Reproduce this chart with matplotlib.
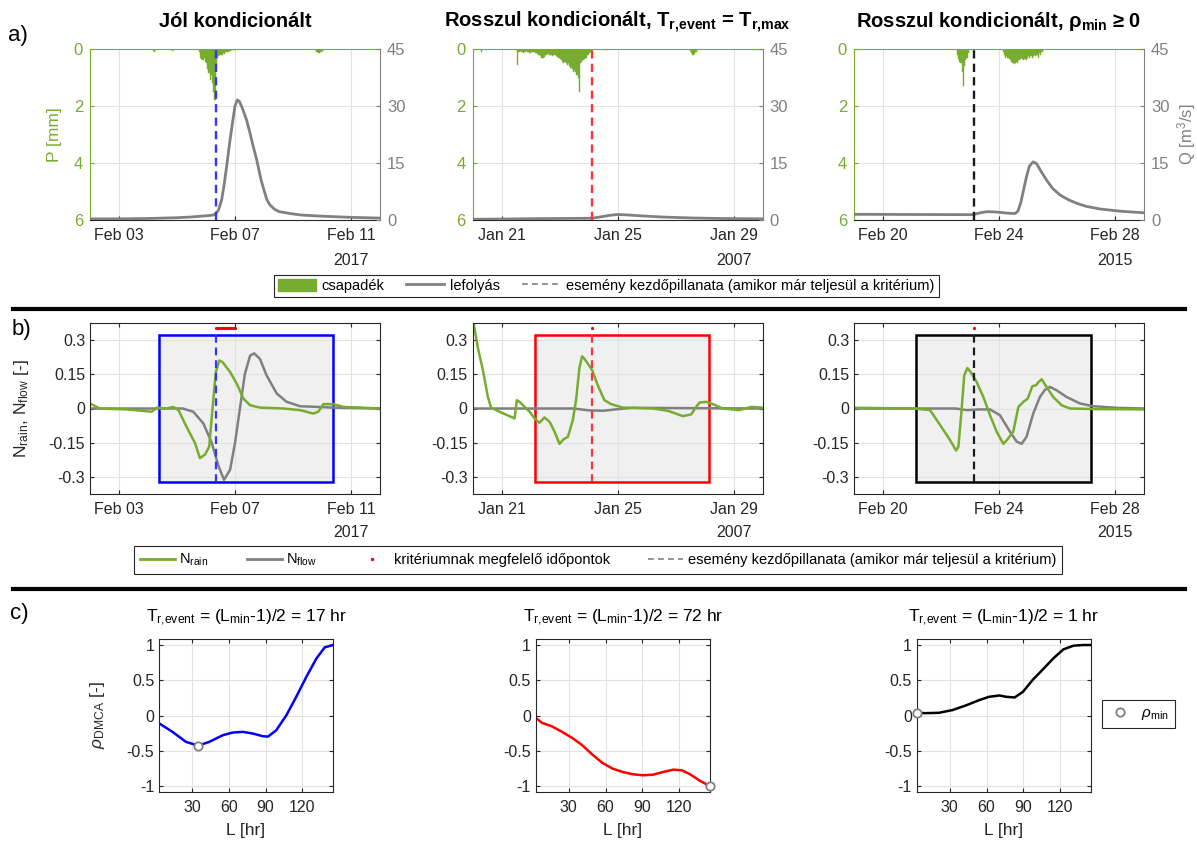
import matplotlib
matplotlib.use("Agg")
import numpy as np
import matplotlib.pyplot as plt
from matplotlib.patches import Rectangle, Patch
from matplotlib.lines import Line2D

plt.rcParams['font.family'] = ['Liberation Sans', 'DejaVu Sans']
plt.rcParams['mathtext.fontset'] = 'custom'
plt.rcParams['mathtext.rm'] = 'Liberation Sans'
plt.rcParams['mathtext.it'] = 'Liberation Sans:italic'
plt.rcParams['mathtext.bf'] = 'Liberation Sans:bold'

GREEN = '#77AC30'
GRAY = '#808080'
TXT = '#262626'
GRID = '#E2E2E2'

# ------------------------------------------------------------------ data
titles_a = ["Jól kondicionált",
            r"Rosszul kondicionált, T$_{\mathbf{r{,}event}}$ = T$_{\mathbf{r{,}max}}$",
            r"Rosszul kondicionált, ρ$_{\mathbf{min}}$ ≥ 0"]
event_colors = ['#0000FF', '#FF0000', '#000000']
dash_colors = ['#3535FF', '#FF3535', '#1A1A1A']
xtick_days = [1, 5, 9]
xtick_labels = [["Feb 03", "Feb 07", "Feb 11"],
                ["Jan 21", "Jan 25", "Jan 29"],
                ["Feb 20", "Feb 24", "Feb 28"]]
years = ["2017", "2007", "2015"]
event_day = [4.34, 4.13, 4.13]          # event start (days from window start)
window_start = [2.38, 2.14, 2.13]
window_end = [8.39, 8.15, 8.16]

# precipitation: hour from panel start, mm
rain1_hour = [52, 53, 67, 68, 69,
              90, 91, 92, 93, 94, 95, 96, 97, 98, 99, 100, 101, 102, 103, 104, 105,
              106, 107, 108, 109, 110, 111, 112, 113, 114, 115, 116, 117, 118, 119, 120,
              186, 187, 188, 189, 190, 191, 192, 193]
rain1_mm = [0.06, 0.1, 0.04, 0.07, 0.03,
            0.1, 0.3, 0.35, 0.4, 0.3, 0.45, 0.5, 0.7, 0.85, 1.1, 0.9, 1.2, 1.5, 1.8, 0.6, 0.3,
            0.25, 0.22, 0.2, 0.22, 0.15, 0.18, 0.12, 0.1, 0.1, 0.08, 0.06, 0.05, 0.05, 0.03, 0.02,
            0.05, 0.1, 0.12, 0.15, 0.12, 0.1, 0.08, 0.05]
rain2_hour = [7, 36, 37, 38, 39, 40, 41, 42, 43, 44, 45, 46, 47, 48, 49, 50, 51, 52, 53, 54, 55,
              56, 57, 58, 59, 60, 61, 62, 63, 64, 65, 66, 67, 68, 69, 70, 71,
              72, 73, 74, 75, 76, 77, 78, 79, 80, 81, 82, 83, 84, 85, 86, 87, 88,
              89, 90, 91, 92, 93, 94, 95, 96, 97, 98, 110, 180, 181, 182, 183, 184, 185, 186, 232]
rain2_mm = [0.12, 0.05, 0.56, 0.1, 0.08, 0.12, 0.1, 0.15, 0.1, 0.08, 0.12, 0.1, 0.15, 0.12, 0.1, 0.1, 0.12, 0.15, 0.18, 0.2, 0.22,
            0.25, 0.3, 0.33, 0.28, 0.22, 0.2, 0.18, 0.2, 0.22, 0.2, 0.25, 0.22, 0.2, 0.25, 0.28, 0.3,
            0.35, 0.4, 0.45, 0.5, 0.45, 0.5, 0.55, 0.5, 0.6, 0.65, 0.7, 0.8, 0.75, 0.8, 0.9, 1.0, 1.5,
            0.5, 0.45, 0.4, 0.35, 0.3, 0.3, 0.2, 0.15, 0.1, 0.05, 0.04, 0.08, 0.15, 0.2, 0.18, 0.12, 0.1, 0.05, 0.05]
rain3_hour = [85, 86, 87, 88, 89, 90, 91, 92, 93, 94,
              123, 124, 125, 126, 127, 128, 129, 130, 131, 132, 133, 134, 135, 136, 137, 138, 139,
              140, 141, 142, 143, 144, 145, 146, 147, 148, 149, 150, 151, 152, 153, 154, 155, 156]
rain3_mm = [0.2, 0.35, 0.45, 0.5, 0.8, 1.3, 0.6, 0.4, 0.3, 0.15,
            0.1, 0.2, 0.3, 0.25, 0.3, 0.35, 0.4, 0.45, 0.5, 0.52, 0.5, 0.45, 0.5, 0.4, 0.35, 0.3, 0.35,
            0.4, 0.35, 0.4, 0.3, 0.25, 0.3, 0.25, 0.3, 0.25, 0.2, 0.25, 0.2, 0.3, 0.15, 0.2, 0.1, 0.05]

# discharge: day from panel start, m3/s
flow1_day = [0, 1, 2, 3, 3.5, 4.0, 4.25, 4.35, 4.43, 4.54, 4.62, 4.71, 4.81, 4.91, 5.0, 5.08, 5.15,
             5.25, 5.4, 5.52, 5.63, 5.75, 5.9, 6.09, 6.2, 6.35, 6.52, 6.9, 7.3, 8.0, 9.0, 10.0]
flow1_q = [0.3, 0.3, 0.4, 0.6, 0.8, 1.1, 1.3, 1.8, 2.6, 5.3, 9.0, 14.0, 20.0, 25.4, 30.0, 31.6, 31.2,
           29.5, 26.3, 22.8, 19.3, 15.8, 10.5, 5.5, 4.0, 2.9, 2.2, 1.7, 1.3, 1.0, 0.7, 0.5]
flow2_day = [0, 1, 2, 3, 4.0, 4.15, 4.4, 4.7, 5.0, 5.3, 5.8, 6.5, 7.5, 8.5, 10]
flow2_q = [0.2, 0.25, 0.35, 0.4, 0.45, 0.5, 0.8, 1.2, 1.45, 1.35, 1.1, 0.8, 0.55, 0.4, 0.3]
flow3_day = [0, 2, 4.0, 4.13, 4.35, 4.6, 4.9, 5.3, 5.55, 5.65, 5.75, 5.85, 5.95, 6.05, 6.18, 6.3,
             6.45, 6.64, 6.85, 7.1, 7.4, 7.68, 8.0, 8.48, 9.2, 10]
flow3_q = [1.5, 1.45, 1.4, 1.45, 1.9, 2.2, 2.1, 1.8, 1.7, 2.3, 4.5, 8.0, 11.5, 14.2, 15.3, 14.8,
           12.8, 10.5, 8.3, 6.6, 5.3, 4.4, 3.6, 2.9, 2.3, 1.9]

# normalised series (row b)
nrain1_day = [0, 0.34, 1.26, 2.13, 2.3, 2.64, 2.87, 3.05, 3.33, 3.62, 3.79, 3.97, 4.11, 4.25, 4.34,
              4.46, 4.57, 4.83, 5.06, 5.29, 5.52, 5.86, 6.67, 7.24, 7.7, 7.87, 8.05, 8.39, 8.74, 10]
nrain1_val = [0.022, 0, -0.004, -0.014, 0.004, 0, 0.007, -0.007, -0.08, -0.15, -0.216, -0.2, -0.166,
              0.036, 0.159, 0.209, 0.202, 0.159, 0.108, 0.043, 0.014, 0.004, 0, -0.007, -0.022,
              -0.014, 0.019, 0.019, 0.007, 0]
nflow1_day = [0, 3.2, 3.56, 3.91, 4.2, 4.43, 4.62, 4.83, 5.0, 5.17, 5.34, 5.52, 5.66, 5.86, 6.09,
              6.44, 6.78, 7.24, 8.39, 10]
nflow1_val = [0, 0, -0.014, -0.065, -0.15, -0.25, -0.31, -0.267, -0.15, 0, 0.15, 0.23, 0.24, 0.216,
              0.144, 0.065, 0.029, 0.01, 0.004, 0]
nrain2_day = [0, 0.18, 0.36, 0.53, 0.64, 0.93, 1.45, 1.53, 1.62, 1.97, 2.14, 2.31, 2.48, 2.66, 2.83,
              3.0, 3.14, 3.29, 3.46, 3.57, 3.69, 3.78, 3.86, 3.98, 4.13, 4.32, 4.55, 4.78, 5.18,
              6.22, 6.74, 7.25, 7.54, 7.71, 7.83, 8.06, 8.29, 8.63, 9.2, 9.61, 9.98]
nrain2_val = [0.4, 0.267, 0.166, 0.05, 0.004, -0.014, -0.043, 0.036, 0.029, -0.014, -0.043, -0.062,
              -0.039, -0.058, -0.101, -0.154, -0.134, -0.123, -0.05, 0.036, 0.18, 0.227, 0.216,
              0.195, 0.166, 0.101, 0.036, 0.019, 0.004, 0, -0.01, -0.033, -0.026, 0.007, 0.026,
              0.029, 0.019, 0, -0.007, 0.007, 0.004]
nflow2_day = [0, 3.5, 4.0, 4.5, 5.0, 5.5, 7, 10]
nflow2_val = [0, 0, -0.008, -0.01, -0.003, 0.003, 0.002, 0]
nrain3_day = [0, 2.05, 2.62, 2.97, 3.31, 3.52, 3.6, 3.71, 3.8, 3.91, 4.02, 4.23, 4.46, 4.69, 4.92,
              5.15, 5.32, 5.49, 5.67, 5.84, 5.99, 6.15, 6.28, 6.36, 6.47, 6.64, 6.87, 7.16, 7.45,
              8.48, 9.17, 10]
nrain3_val = [0.003, 0, -0.007, -0.072, -0.137, -0.183, -0.166, -0.007, 0.144, 0.176, 0.159, 0.115,
              0.05, -0.029, -0.101, -0.154, -0.13, -0.101, 0.007, 0.029, 0.043, 0.097, 0.101, 0.115,
              0.127, 0.094, 0.05, 0.014, 0, -0.003, -0.003, -0.004]
nflow3_day = [0, 3.5, 3.89, 4.34, 4.69, 5.03, 5.38, 5.61, 5.78, 5.95, 6.18, 6.41, 6.59, 6.76, 6.99,
              7.33, 7.79, 8.25, 9.06, 10]
nflow3_val = [0, 0, -0.007, -0.004, -0.004, -0.029, -0.101, -0.144, -0.154, -0.123, -0.022, 0.05,
              0.082, 0.094, 0.079, 0.05, 0.022, 0.01, 0.003, 0]
crit1_hour = [104, 105, 106, 107, 108, 109, 110, 111, 112, 113, 114, 115, 116, 117, 118, 119, 120]
crit2_hour = [99]
crit3_hour = [99]

# row c: DMCA correlation vs window length
c1_L = [3, 14, 25, 35, 44, 55, 63, 71.5, 79.6, 87.8, 92, 98.7, 107, 115, 123.3, 131.5, 138.3, 145]
c1_rho = [-0.11, -0.232, -0.374, -0.427, -0.374, -0.28, -0.242, -0.232, -0.256, -0.294, -0.299,
          -0.209, 0.005, 0.265, 0.55, 0.81, 0.967, 1.0]
c2_L = [3, 8, 16, 24.5, 32.8, 41, 49.3, 57.5, 65.8, 74, 82.3, 90.6, 98.8, 107, 115.3, 122.2, 129,
        137.3, 145]
c2_rho = [-0.03, -0.104, -0.152, -0.232, -0.318, -0.422, -0.555, -0.673, -0.754, -0.801, -0.834,
          -0.848, -0.839, -0.801, -0.768, -0.777, -0.834, -0.929, -1.0]
c3_L = [3, 10, 21, 32, 43, 54, 62, 70.5, 76, 83, 89.7, 98, 106, 114.5, 122.7, 131, 139, 145]
c3_rho = [0.038, 0.033, 0.038, 0.076, 0.142, 0.218, 0.265, 0.284, 0.265, 0.256, 0.336, 0.512,
          0.654, 0.81, 0.938, 0.99, 1.0, 1.0]
T_event = [17, 72, 1]
L_min = [35, 145, 3]
rho_min = [-0.427, -1.0, 0.038]
c_colors = ['#0000FF', '#FF0000', '#000000']

rain_hours = [rain1_hour, rain2_hour, rain3_hour]
rain_mm = [rain1_mm, rain2_mm, rain3_mm]
flow_day = [flow1_day, flow2_day, flow3_day]
flow_q = [flow1_q, flow2_q, flow3_q]
nrain_day = [nrain1_day, nrain2_day, nrain3_day]
nrain_val = [nrain1_val, nrain2_val, nrain3_val]
nflow_day = [nflow1_day, nflow2_day, nflow3_day]
nflow_val = [nflow1_val, nflow2_val, nflow3_val]
crit_hours = [crit1_hour, crit2_hour, crit3_hour]
c_L = [c1_L, c2_L, c3_L]
c_rho = [c1_rho, c2_rho, c3_rho]

# ------------------------------------------------------------------ figure
W, H = 1197, 842
fig = plt.figure(figsize=(W / 100, H / 100), dpi=100)


def rect(l, t, w, h):
    return [l / W, 1 - (t + h) / H, w / W, h / H]


lefts_ab = [90, 472.5, 854]
lefts_c = [159, 535.7, 916.7]
TICK_FS = 11.5

for i in range(3):
    # ---------------- row a
    ax = fig.add_axes(rect(lefts_ab[i], 49, 290, 171))
    ax2 = ax.twinx()
    ax.set_zorder(1)
    ax2.set_zorder(2)
    ax.bar(np.array(rain_hours[i]) / 24.0, rain_mm[i], width=1 / 24.0, align='edge',
           color=GREEN, edgecolor=GREEN, linewidth=0.3, zorder=2)
    ax.set_ylim(6, 0)
    ax.set_yticks([0, 2, 4, 6])
    ax.set_xlim(0, 10)
    ax.set_xticks(xtick_days)
    ax.set_xticklabels(xtick_labels[i])
    ax.grid(True, color=GRID, lw=0.8)
    ax.set_axisbelow(True)
    ax.tick_params(axis='y', colors=GREEN, labelsize=TICK_FS + 0.5, direction='in', length=3, pad=5)
    ax.tick_params(axis='x', colors=TXT, labelsize=TICK_FS, direction='in', length=3, pad=6)
    ax.spines['left'].set_color(GREEN)
    ax.spines['top'].set_color(GREEN)
    ax.spines['bottom'].set_color(TXT)
    ax.spines['right'].set_visible(False)
    ax2.plot(flow_day[i], flow_q[i], color=GRAY, lw=2.0, solid_capstyle='round')
    ax2.axvline(event_day[i], color=dash_colors[i], lw=1.7, ls=(0, (3.5, 2.2)))
    ax2.set_ylim(0, 45)
    ax2.set_yticks([0, 15, 30, 45])
    ax2.tick_params(axis='y', colors=GRAY, labelsize=TICK_FS + 0.5, direction='in', length=3, pad=5)
    for s in ['left', 'top', 'bottom']:
        ax2.spines[s].set_visible(False)
    ax2.spines['right'].set_color(GRAY)
    ax.text(0.5, 1.13, titles_a[i], transform=ax.transAxes, ha='center', va='baseline',
            fontsize=14.5, fontweight='bold', color='black')
    ax.text(xtick_days[-1], -0.235, years[i], transform=ax.get_xaxis_transform(),
            ha='center', va='center', fontsize=TICK_FS, color=TXT)
    if i == 0:
        ax.set_ylabel("P [mm]", color=GREEN, fontsize=12.5)
        ax.yaxis.set_label_coords(-0.095, 0.5)
    if i == 2:
        ax2.text((1187 - 854) / 290, 0.5, r"Q [m$^3$/s]", transform=ax2.transAxes, rotation=90,
                 ha='center', va='center', color=GRAY, fontsize=12)

    # ---------------- row b
    bx = fig.add_axes(rect(lefts_ab[i], 323, 290, 171))
    bx.set_xlim(0, 10)
    bx.set_ylim(-0.372, 0.372)
    bx.add_patch(Rectangle((window_start[i], -0.32), window_end[i] - window_start[i], 0.64,
                           facecolor='#F0F0F0', edgecolor='none', zorder=0.3))
    bx.add_patch(Rectangle((window_start[i], -0.32), window_end[i] - window_start[i], 0.64,
                           facecolor='none', edgecolor=event_colors[i], lw=1.8, zorder=1.5))
    bx.plot(nrain_day[i], nrain_val[i], color=GREEN, lw=1.8, zorder=2.2)
    bx.plot(nflow_day[i], nflow_val[i], color=GRAY, lw=1.8, zorder=2.1)
    bx.plot([event_day[i], event_day[i]], [-0.32, 0.32], color=dash_colors[i], lw=1.6,
            ls=(0, (3.5, 2.2)), zorder=2.5)
    ch = np.array(crit_hours[i]) / 24.0
    bx.plot(ch, np.full(len(ch), 0.35), 'o', color='#FF0000', ms=2.3, mec='none', zorder=3)
    bx.set_xticks(xtick_days)
    bx.set_xticklabels(xtick_labels[i])
    bx.set_yticks([-0.3, -0.15, 0, 0.15, 0.3])
    bx.set_yticklabels(["-0.3", "-0.15", "0", "0.15", "0.3"])
    bx.grid(True, color=GRID, lw=0.8)
    bx.set_axisbelow(True)
    bx.tick_params(colors=TXT, labelsize=TICK_FS, direction='in', length=3, top=True, right=True)
    bx.tick_params(axis='x', pad=6)
    for s in bx.spines.values():
        s.set_color(TXT)
        s.set_linewidth(0.8)
    bx.text(xtick_days[-1], -0.225, years[i], transform=bx.get_xaxis_transform(),
            ha='center', va='center', fontsize=TICK_FS, color=TXT)
    if i == 0:
        bx.set_ylabel(r"N$_{\mathrm{rain}}$, N$_{\mathrm{flow}}$ [-]", color=TXT, fontsize=12.5)
        bx.yaxis.set_label_coords(-0.205, 0.5)

    # ---------------- row c
    cx = fig.add_axes(rect(lefts_c[i], 639, 174, 153))
    cx.plot(c_L[i], c_rho[i], color=c_colors[i], lw=1.8)
    cx.plot([L_min[i]], [rho_min[i]], 'o', mfc='white', mec=GRAY, mew=1.3, ms=6, clip_on=False,
            zorder=4)
    cx.set_xlim(3, 145)
    cx.set_ylim(-1.085, 1.085)
    cx.set_xticks([30, 60, 90, 120])
    cx.set_yticks([-1, -0.5, 0, 0.5, 1])
    cx.set_yticklabels(["-1", "-0.5", "0", "0.5", "1"])
    cx.grid(True, color=GRID, lw=0.8)
    cx.set_axisbelow(True)
    cx.tick_params(colors=TXT, labelsize=TICK_FS, direction='in', length=3, top=True, right=True)
    cx.tick_params(axis='x', pad=6)
    for s in cx.spines.values():
        s.set_color(TXT)
        s.set_linewidth(0.8)
    cx.set_xlabel("L [hr]", fontsize=12.5, color=TXT)
    cx.xaxis.set_label_coords(0.5, -0.2)
    cx.text(0.5, 1.11, r"T$_{\mathrm{r{,}event}}$ = (L$_{\mathrm{min}}$-1)/2 = " + str(T_event[i]) + " hr",
            transform=cx.transAxes, ha='center', va='baseline', fontsize=12.5, color='black')
    if i == 0:
        cx.set_ylabel(r"$\rho_{\mathrm{DMCA}}$ [-]", fontsize=12.5, color=TXT)
        cx.yaxis.set_label_coords(-0.3, 0.5)

# panel labels
fig.text(8 / W, 1 - 35 / H, "a)", fontsize=16, va='center', ha='left')
fig.text(12 / W, 1 - 330 / H, "b)", fontsize=16, va='center', ha='left')
fig.text(10 / W, 1 - 613 / H, "c)", fontsize=16, va='center', ha='left')

# separators
fig.add_artist(Line2D([13 / W, 1185 / W], [1 - 309 / H, 1 - 309 / H], color='black', lw=3))
fig.add_artist(Line2D([13 / W, 1185 / W], [1 - 589 / H, 1 - 589 / H], color='black', lw=3))

# legends
leg_a = fig.legend(handles=[Patch(facecolor=GREEN, edgecolor=GREEN),
                            Line2D([], [], color=GRAY, lw=2),
                            Line2D([], [], color=GRAY, lw=1.2, ls=(0, (3.5, 2.5)))],
                   labels=["csapadék", "lefolyás",
                           "esemény kezdőpillanata (amikor már teljesül a kritérium)"],
                   ncol=3, loc='center', bbox_to_anchor=(606 / W, 1 - 286 / H), fontsize=10.5,
                   frameon=True, fancybox=False, edgecolor=TXT, framealpha=1,
                   handlelength=2.6, handletextpad=0.4, columnspacing=1.5, borderpad=0.3,
                   handleheight=0.9)
leg_a.get_frame().set_linewidth(0.8)

leg_b = fig.legend(handles=[Line2D([], [], color=GREEN, lw=2),
                            Line2D([], [], color=GRAY, lw=2),
                            Line2D([], [], color='#FF0000', ls='none', marker='o', ms=2.5, mec='none'),
                            Line2D([], [], color=GRAY, lw=1.2, ls=(0, (3.5, 2.5)))],
                   labels=[r"N$_{\mathrm{rain}}$", r"N$_{\mathrm{flow}}$",
                           "kritériumnak megfelelő időpontok",
                           "esemény kezdőpillanata (amikor már teljesül a kritérium)"],
                   ncol=4, loc='center', bbox_to_anchor=(598 / W, 1 - 560 / H), fontsize=10.5,
                   frameon=True, fancybox=False, edgecolor=TXT, framealpha=1,
                   handlelength=2.4, handletextpad=0.3, columnspacing=2.6, borderpad=0.4)
leg_b.get_frame().set_linewidth(0.8)

leg_c = fig.legend(handles=[Line2D([], [], ls='none', marker='o', mfc='white', mec=GRAY, mew=1.3, ms=6)],
                   labels=[r"$\rho_{\mathrm{min}}$"], loc='center left',
                   bbox_to_anchor=(1094 / W, 1 - 714 / H), fontsize=11,
                   frameon=True, fancybox=False, edgecolor=TXT, framealpha=1,
                   handlelength=1.6, handletextpad=0.6, borderpad=0.4)
leg_c.get_frame().set_linewidth(0.8)

fig.savefig("out.png", dpi=100)
